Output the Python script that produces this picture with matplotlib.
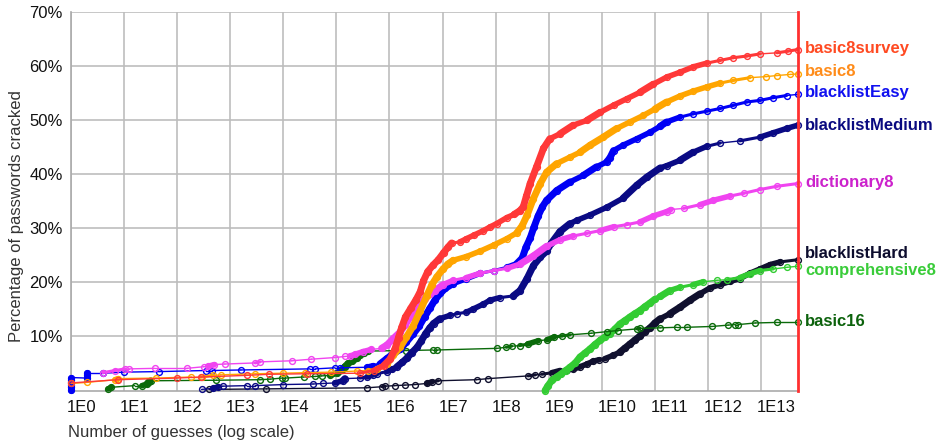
import numpy as np
import matplotlib
matplotlib.use("Agg")
import matplotlib.pyplot as plt
from matplotlib.collections import LineCollection
from matplotlib.ticker import NullLocator
import matplotlib.transforms as mtransforms

plt.rcParams['font.family'] = ['Liberation Sans', 'DejaVu Sans']

# ---------------- data (x = log10 of number of guesses, y = % cracked) ----------------
x_tick_labels = ["1E0", "1E1", "1E2", "1E3", "1E4", "1E5", "1E6", "1E7",
                 "1E8", "1E9", "1E10", "1E11", "1E12", "1E13"]
y_tick_values = [10, 20, 30, 40, 50, 60, 70]

basic8survey_logx = [0.0, 0.89, 1.99, 2.45, 3.31, 3.73, 4.44, 5.44, 5.7, 5.89, 6.01, 6.1, 6.17,
                     6.23, 6.3, 6.4, 6.5, 6.58, 6.64, 6.72, 6.82, 6.92, 7.02, 7.1, 7.17, 7.33,
                     7.45, 7.6, 7.77, 7.9, 8.02, 8.21, 8.35, 8.46, 8.52, 8.58, 8.65, 8.77, 8.9,
                     9.02, 9.21, 9.46, 9.72, 9.97, 10.22, 10.47, 10.72, 10.97, 11.22, 11.47,
                     11.72, 11.98, 12.23, 12.48, 12.73, 12.98, 13.3, 13.5, 13.69]
basic8survey_pct = [1.4, 2.0, 2.3, 2.5, 2.8, 3.0, 3.1, 3.2, 3.7, 4.6, 5.8, 7.6, 9.8,
                    11.7, 13.6, 15.2, 16.8, 18.3, 20.3, 22.0, 23.2, 24.2, 25.5, 26.5, 27.3, 27.5,
                    28.1, 28.8, 29.6, 30.3, 30.9, 32.0, 32.6, 33.3, 34.0, 36.0, 38.3, 41.4, 44.8,
                    46.6, 47.5, 49.1, 50.0, 51.5, 52.8, 54.0, 55.2, 56.7, 58.0, 58.9,
                    59.9, 60.6, 61.1, 61.6, 61.9, 62.3, 62.5, 62.8, 63.1]

basic8_logx = [0.0, 0.3, 0.83, 0.89, 1.6, 2.27, 2.46, 2.68, 2.82, 3.47, 4.0, 4.41, 4.9, 5.38,
               5.6, 5.76, 5.95, 6.07, 6.2, 6.32, 6.45, 6.58, 6.7, 6.8, 6.89, 7.01, 7.1, 7.2,
               7.45, 7.71, 7.96, 8.21, 8.4, 8.5, 8.59, 8.71, 8.84, 8.96, 9.15, 9.4, 9.59,
               9.78, 10.03, 10.28, 10.53, 10.78, 11.0, 11.22, 11.47, 11.72, 11.98, 12.23,
               12.48, 12.79, 13.1, 13.3, 13.55, 13.69]
basic8_pct = [1.3, 1.5, 2.0, 2.2, 2.3, 2.5, 2.5, 2.8, 2.9, 3.1, 3.2, 3.3, 3.4, 3.6,
              3.7, 4.0, 4.9, 6.5, 8.0, 9.9, 12.0, 14.8, 17.5, 19.6, 21.0, 22.5, 23.4, 24.1,
              24.8, 25.8, 26.9, 28.1, 29.2, 30.5, 32.4, 35.5, 38.3, 40.4, 42.0, 43.2, 44.1,
              45.4, 46.9, 48.5, 49.7, 50.9, 52.1, 53.4, 54.5, 55.4, 56.2, 56.9,
              57.4, 57.9, 58.1, 58.3, 58.5, 58.6]

blacklistEasy_logx = [0.0, 0.0, 0.0, 0.0, 0.0, 0.0, 0.3, 0.3, 0.3, 0.61, 1.0, 1.66, 2.54, 2.66,
                      3.2, 4.5, 4.6, 4.97, 5.07, 5.57, 5.69, 5.82, 5.95, 6.07, 6.2, 6.32, 6.45,
                      6.56, 6.66, 6.76, 6.86, 6.96, 7.05, 7.2, 7.45, 7.71, 7.96, 8.21, 8.4, 8.5,
                      8.57, 8.65, 8.72, 8.8, 8.88, 8.96, 9.15, 9.4, 9.65, 9.9, 10.09, 10.15,
                      10.22, 10.4, 10.66, 10.91, 11.1, 11.22, 11.47, 11.72, 11.98, 12.23, 12.48,
                      12.73, 12.98, 13.23, 13.48, 13.69]
blacklistEasy_pct = [0.1, 0.6, 1.1, 1.6, 2.0, 2.4, 2.3, 2.8, 3.2, 3.2, 3.4, 3.5, 3.7, 3.7,
                     3.8, 4.0, 4.0, 4.2, 4.2, 4.3, 4.6, 4.9, 5.9, 6.8, 7.6, 9.0, 10.5,
                     11.9, 13.6, 15.2, 16.8, 18.0, 18.9, 19.8, 20.7, 21.7, 22.2, 22.8, 23.5, 24.5,
                     26.5, 28.2, 30.2, 32.3, 34.0, 35.2, 37.0, 38.6, 39.8, 41.4, 42.3, 43.0,
                     44.4, 45.4, 46.6, 47.8, 48.9, 49.7, 50.6, 51.2, 51.7, 52.2, 52.8,
                     53.4, 53.7, 54.2, 54.6, 54.8]

blacklistMedium_logx = [2.46, 2.68, 2.77, 2.86, 3.31, 3.47, 4.0, 4.56, 4.75, 4.97, 5.12, 5.16,
                        5.44, 5.58, 5.68, 5.76, 5.95, 6.05, 6.14, 6.24, 6.33, 6.42, 6.52, 6.6,
                        6.68, 6.76, 6.83, 6.95, 7.14, 7.27, 7.45, 7.58, 7.77, 7.89, 8.08, 8.33,
                        8.46, 8.59, 8.71, 8.84, 8.96, 9.05, 9.21, 9.4, 9.53, 9.78, 10.09, 10.4,
                        10.66, 10.85, 11.1, 11.22, 11.47, 11.72, 11.98, 12.23, 12.6, 12.98,
                        13.23, 13.48, 13.69]
blacklistMedium_pct = [0.2, 0.4, 0.7, 0.8, 0.9, 0.9, 1.1, 1.2, 1.3, 1.4, 1.8, 2.2,
                       2.3, 2.5, 2.9, 3.1, 3.5, 3.9, 4.4, 5.2, 6.0, 7.0, 8.0, 9.2,
                       10.5, 11.6, 12.4, 13.3, 13.9, 14.2, 14.5, 15.1, 16.0, 16.7, 17.2, 17.5,
                       18.5, 20.7, 23.1, 24.7, 25.8, 27.3, 29.4, 30.9, 31.5, 32.5, 33.9, 35.6,
                       38.0, 39.5, 41.2, 41.6, 42.6, 44.1, 45.2, 45.8, 46.2, 46.9,
                       47.7, 48.5, 49.1]

dictionary8_logx = [0.6, 0.83, 1.02, 1.09, 1.58, 2.18, 2.5, 2.59, 2.7, 2.9, 3.47, 3.56, 4.16,
                    4.53, 4.97, 5.16, 5.26, 5.35, 5.5, 5.66, 5.85, 5.95, 6.07, 6.2, 6.3, 6.39,
                    6.48, 6.58, 6.66, 6.76, 6.86, 7.01, 7.2, 7.45, 7.71, 7.96, 8.21, 8.46,
                    8.71, 8.96, 9.21, 9.46, 9.72, 9.97, 10.22, 10.47, 10.72, 10.97, 11.22,
                    11.3, 11.54, 11.85, 12.1, 12.42, 12.67, 12.98, 13.3, 13.69]
dictionary8_pct = [3.3, 3.7, 4.0, 4.0, 4.1, 4.1, 4.4, 4.5, 4.8, 4.9, 5.1, 5.3, 5.5,
                   5.8, 6.1, 6.3, 6.4, 6.7, 7.2, 7.6, 7.8, 8.4, 9.6, 10.8, 12.2, 13.6,
                   14.8, 16.0, 17.0, 17.8, 18.5, 19.6, 20.4, 20.9, 21.7, 22.2, 22.6, 23.4,
                   24.9, 26.7, 27.9, 28.6, 29.1, 29.6, 30.3, 30.7, 31.2, 32.3, 33.1,
                   33.5, 33.7, 34.4, 35.2, 36.0, 36.5, 37.2, 37.8, 38.3]

blacklistHard_logx = [2.6, 3.68, 5.57, 5.86, 5.92, 6.1, 6.29, 6.48, 6.7, 6.8, 6.92, 7.64, 7.86,
                      8.61, 8.75, 8.87, 9.06, 9.21, 9.35, 9.46, 9.59, 9.72, 9.83, 9.95, 10.06,
                      10.21, 10.34, 10.43, 10.53, 10.62, 10.72, 10.81, 10.91, 11.0, 11.1,
                      11.28, 11.47, 11.66, 11.85, 12.04, 12.23, 12.42, 12.6, 12.79, 12.98,
                      13.17, 13.36, 13.69]
blacklistHard_pct = [0.2, 0.3, 0.5, 0.7, 0.8, 0.9, 1.0, 1.1, 1.3, 1.6, 1.8, 2.0, 2.2,
                     2.7, 2.9, 3.0, 3.3, 3.7, 3.8, 3.9, 4.4, 4.9, 5.4, 5.7, 5.9,
                     6.5, 7.1, 7.8, 8.6, 9.3, 10.1, 10.9, 11.6, 12.5, 13.3,
                     14.2, 15.4, 16.7, 17.9, 19.0, 19.6, 20.2, 20.7, 21.7, 22.5,
                     23.3, 23.8, 24.2]

comprehensive8_logx = [8.93, 8.98, 9.06, 9.15, 9.24, 9.32, 9.4, 9.5, 9.59, 9.68, 9.78, 9.87,
                       9.97, 10.06, 10.15, 10.25, 10.34, 10.43, 10.53, 10.62, 10.72, 10.81,
                       10.91, 11.0, 11.1, 11.28, 11.47, 11.72, 11.9, 12.17, 12.36, 12.6,
                       12.79, 12.98, 13.23, 13.49, 13.69]
comprehensive8_pct = [0.0, 0.8, 1.9, 2.5, 3.1, 3.7, 4.3, 5.1, 6.2, 6.9, 7.7, 8.5,
                      9.3, 9.9, 10.5, 11.4, 12.3, 12.9, 13.6, 14.2, 14.8, 15.5,
                      16.2, 16.9, 17.4, 18.5, 19.1, 19.6, 20.1, 20.4, 20.5, 20.9,
                      21.6, 22.2, 22.5, 22.8, 23.0]

basic16_logx = [0.7, 0.76, 1.2, 1.34, 1.43, 1.46, 1.5, 2.74, 3.56, 3.75, 3.97, 4.04, 4.38,
                4.6, 4.72, 4.88, 5.02, 5.1, 5.16, 5.22, 5.3, 5.38, 5.45, 5.52, 5.6, 6.32,
                6.82, 6.9, 8.02, 8.2, 8.3, 8.45, 8.6, 8.8, 8.97, 9.1, 9.25, 9.4, 9.8, 10.1,
                10.3, 10.66, 10.72, 11.1, 11.41, 11.6, 12.07, 12.38, 12.5, 12.57, 12.89,
                13.3, 13.69]
basic16_pct = [0.3, 0.6, 0.9, 0.9, 1.2, 1.5, 1.8, 1.9, 2.0, 2.1, 2.3, 2.3, 2.5,
               2.6, 2.7, 2.8, 3.2, 3.8, 4.4, 5.0, 5.4, 6.0, 6.6, 7.0, 7.3, 7.4,
               7.5, 7.5, 7.8, 8.0, 8.2, 8.3, 8.6, 9.2, 9.4, 9.9, 10.1, 10.3, 10.6, 10.9,
               11.1, 11.4, 11.5, 11.6, 11.7, 11.7, 11.85, 12.1, 12.2, 12.2, 12.5,
               12.6, 12.6]

series_names = ["blacklistHard", "comprehensive8", "basic16", "blacklistMedium",
                "blacklistEasy", "dictionary8", "basic8", "basic8survey"]
series_data = {
    "basic8survey": (basic8survey_logx, basic8survey_pct),
    "basic8": (basic8_logx, basic8_pct),
    "blacklistEasy": (blacklistEasy_logx, blacklistEasy_pct),
    "blacklistMedium": (blacklistMedium_logx, blacklistMedium_pct),
    "dictionary8": (dictionary8_logx, dictionary8_pct),
    "blacklistHard": (blacklistHard_logx, blacklistHard_pct),
    "comprehensive8": (comprehensive8_logx, comprehensive8_pct),
    "basic16": (basic16_logx, basic16_pct),
}

# ---------------- style ----------------
line_colors = {
    "basic8survey": "#FF3838", "basic8": "#FFA500", "blacklistEasy": "#0000F5",
    "blacklistMedium": "#0A0A84", "dictionary8": "#F044F0", "blacklistHard": "#10102E",
    "comprehensive8": "#33CC33", "basic16": "#0A6A0A",
}
label_colors = {
    "basic8survey": "#FF4A22", "basic8": "#FF8C1A", "blacklistEasy": "#1111F0",
    "blacklistMedium": "#0A0A80", "dictionary8": "#CC22CC", "blacklistHard": "#0D0D2E",
    "comprehensive8": "#3ACC3A", "basic16": "#0C620C",
}
label_ypix = {  # label vertical centres in figure pixels
    "basic8survey": 49, "basic8": 71, "blacklistEasy": 93, "blacklistMedium": 126,
    "dictionary8": 183, "blacklistHard": 253, "comprehensive8": 271, "basic16": 322,
}

W, H = 940, 442
fig = plt.figure(figsize=(W / 100, H / 100), dpi=100)
ax_l, ax_r, ax_t, ax_b = 71, 797.7, 12.3, 390.5
ax = fig.add_axes([ax_l / W, 1 - ax_b / H, (ax_r - ax_l) / W, (ax_b - ax_t) / H])
ax.set_xscale('log')
ax.set_xlim(1, 10 ** 13.69)
ax.set_ylim(0, 70)
ax.xaxis.set_minor_locator(NullLocator())
ax.set_xticks(10.0 ** np.arange(len(x_tick_labels)))
ax.set_xticklabels(x_tick_labels, ha='left', fontsize=12, color='#111111')
ax.set_yticks(y_tick_values)
ax.set_yticklabels([f"{v}%" for v in y_tick_values], fontsize=12, color='#111111')
ax.tick_params(axis='both', length=0)
ax.tick_params(axis='x', pad=7)
ax.tick_params(axis='y', pad=6)
off = mtransforms.ScaledTranslation(-4 / 100, 0, fig.dpi_scale_trans)
for lab in ax.get_xticklabels():
    lab.set_transform(lab.get_transform() + off)

ax.grid(True, which='major', color='#BDBDBD', linewidth=1.2)
ax.set_axisbelow(True)
ax.spines['top'].set_visible(False)
ax.spines['left'].set_color('#AAAAAA')
ax.spines['left'].set_linewidth(1.2)
ax.spines['bottom'].set_color('#AAAAAA')
ax.spines['bottom'].set_linewidth(1.2)
ax.spines['right'].set_color('#FF3030')
ax.spines['right'].set_linewidth(2.0)
ax.spines['right'].set_zorder(20)


def draw_series(name, z):
    logx, pct = series_data[name]
    color = line_colors[name]
    x = 10.0 ** np.asarray(logx, float)
    y = np.asarray(pct, float)
    pts = ax.transData.transform(np.column_stack([x, y]))
    dxp = np.abs(np.diff(pts[:, 0]))
    dyp = np.abs(np.diff(pts[:, 1]))
    s = dyp / np.maximum(dxp, 1e-6)
    lw = np.where(s >= 0.6, 5.0, np.where(s >= 0.25, 4.0, np.where(s >= 0.12, 2.2, 1.0)))
    segs = [[(x[i], y[i]), (x[i + 1], y[i + 1])] for i in range(len(x) - 1)]
    lc = LineCollection(segs, colors=color, linewidths=lw, capstyle='round',
                        joinstyle='round', zorder=z)
    lc.set_clip_on(False)
    ax.add_collection(lc)
    ax.plot(x, y, linestyle='none', marker='o', ms=4.2, mfc='none', mec=color,
            mew=1.0, zorder=z + 0.5, clip_on=False)


for i, name in enumerate(series_names):
    draw_series(name, 3 + i)

for name in series_names:
    fig.text(805 / W, 1 - label_ypix[name] / H, name, color=label_colors[name],
             fontsize=12, fontweight='bold', ha='left', va='center')

fig.text(68 / W, 1 - 432 / H, "Number of guesses (log scale)", fontsize=12,
         color='#333333', ha='left', va='center')
fig.text(16.5 / W, 1 - 216 / H, "Percentage of passwords cracked", fontsize=12,
         color='#333333', rotation=90, ha='center', va='center')

fig.savefig("out.png", dpi=100)
